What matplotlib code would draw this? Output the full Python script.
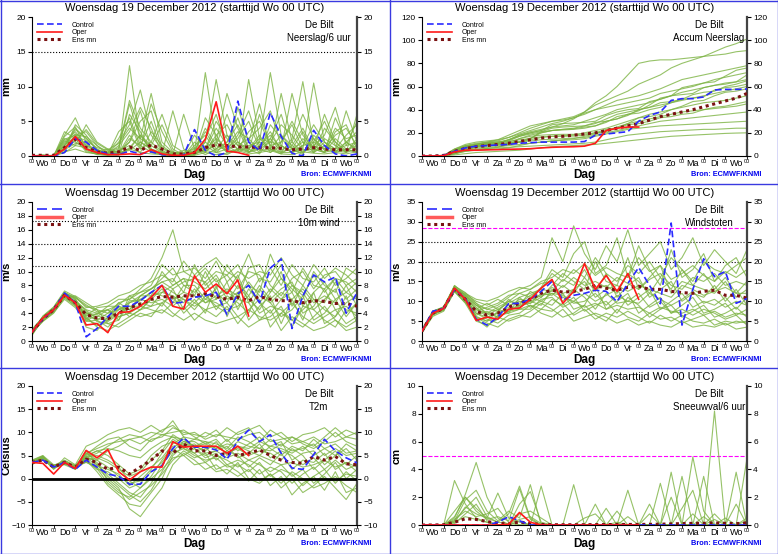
import numpy as np
import matplotlib.pyplot as plt
from matplotlib.lines import Line2D

plt.rcParams['font.family'] = ['Liberation Sans', 'DejaVu Sans']

# 12-hourly forecast steps, 0..360 h from Wo 19 Dec 00 UTC
hours = np.arange(0, 361, 12)
oper_hours = hours[:21]          # operational run stops at +240 h
day_names = ['Wo', 'Do', 'Vr', 'Za', 'Zo', 'Ma', 'Di', 'Wo', 'Do', 'Vr', 'Za', 'Zo', 'Ma', 'Di', 'Wo']
title = 'Woensdag 19 December 2012 (starttijd Wo 00 UTC)'

# ---- Neerslag / 6 uur (mm)
precip_members = [
    [0, 0, 0.1, 2.0, 3.5, 1.5, 0.5, 0.2, 0.5, 13.0, 2.0, 1.0, 0.5, 0.2, 0, 1.5, 3.0, 0.5, 2.0, 4.5, 1.0, 0.3, 2.5, 6.0, 1.0, 0.2, 3.0, 1.5, 0.5, 2.0, 1.0],
    [0, 0, 0, 1.5, 4.0, 2.5, 1.0, 0.3, 2.0, 4.5, 9.5, 3.0, 1.0, 0.5, 0.3, 0.5, 12.0, 2.0, 0.5, 1.0, 3.5, 5.0, 1.5, 0.5, 2.5, 10.7, 1.5, 0.5, 1.0, 3.0, 4.5],
    [0, 0.2, 0, 3.0, 5.5, 2.0, 0.5, 1.0, 0.5, 2.0, 6.5, 1.0, 0.3, 6.5, 1.0, 0.2, 2.0, 11.0, 3.0, 1.5, 0.5, 2.0, 12.0, 3.0, 1.0, 2.0, 0.5, 4.0, 2.0, 0.5, 6.0],
    [0, 0, 0.1, 1.0, 3.0, 3.5, 1.5, 0.5, 1.0, 7.5, 2.5, 9.0, 2.0, 0.5, 0.2, 3.0, 1.0, 4.0, 1.5, 0.5, 11.0, 2.5, 1.0, 9.0, 2.0, 0.5, 1.5, 3.0, 7.0, 1.5, 2.0],
    [0, 0, 0, 2.5, 2.0, 1.0, 0.3, 0.2, 3.5, 5.0, 1.0, 2.0, 6.0, 1.5, 0.5, 0.5, 4.0, 1.5, 6.0, 2.0, 1.0, 3.0, 0.5, 2.0, 4.5, 1.0, 10.5, 2.0, 0.5, 1.0, 0.5],
    [0, 0, 0, 0.5, 1.5, 4.5, 2.0, 1.0, 0.5, 1.0, 3.0, 1.5, 0.5, 0.2, 6.0, 1.0, 0.5, 2.0, 9.0, 4.0, 0.5, 1.5, 3.0, 1.0, 9.0, 3.0, 1.0, 0.5, 5.5, 2.0, 3.5],
    [0, 0, 0, 1.8, 3.2, 0.8, 0.2, 0.1, 0.3, 2.5, 1.5, 5.0, 0.8, 0.1, 0, 2.0, 0.8, 0.5, 1.0, 2.5, 5.0, 1.0, 2.0, 1.5, 0.5, 1.5, 2.0, 1.0, 3.0, 4.0, 1.5],
    [0, 0, 0, 1.2, 2.5, 1.8, 0.6, 0.3, 1.5, 3.5, 7.0, 4.0, 0.3, 0.1, 0.2, 0.3, 5.5, 3.0, 0.5, 7.0, 2.0, 0.5, 4.5, 2.5, 1.0, 3.5, 0.5, 2.0, 1.0, 6.5, 2.0],
    [0, 0, 0, 2.2, 1.5, 1.2, 0.4, 0.5, 0.2, 1.0, 0.5, 3.5, 1.5, 0.3, 0.5, 1.0, 0.2, 1.0, 3.0, 0.8, 2.0, 7.5, 1.0, 0.3, 1.5, 0.5, 2.0, 5.0, 1.5, 0.5, 1.0],
    [0, 0, 0, 0.8, 4.5, 3.0, 0.8, 0.2, 0.1, 6.0, 3.5, 0.5, 0.2, 0.1, 0.1, 0.2, 1.5, 0.5, 0.2, 1.0, 0.5, 1.0, 0.5, 1.5, 0.5, 2.5, 1.0, 0.5, 2.5, 1.0, 0.5],
    [0, 0, 0, 1.6, 2.8, 2.2, 1.2, 0.8, 0.5, 0.8, 2.0, 1.0, 0.1, 0, 0, 0.5, 1.0, 2.5, 1.0, 0.5, 1.5, 2.0, 1.0, 0.5, 0.5, 1.0, 0.5, 1.5, 0.8, 0.5, 2.5],
    [0, 0, 0, 0.6, 1.0, 0.5, 0.3, 0.2, 0.8, 1.5, 0.5, 0.3, 0.2, 0, 0, 0.1, 0.5, 0.2, 0.4, 0.8, 0.3, 0.5, 0.8, 0.3, 0.2, 0.6, 0.4, 0.3, 0.5, 0.3, 0.6],
    [0, 0, 0, 2.8, 4.2, 1.0, 0.4, 0.6, 1.2, 8.0, 4.0, 2.0, 0.6, 0.3, 0.8, 0.5, 2.5, 6.0, 1.0, 3.0, 6.5, 1.5, 3.5, 0.8, 2.0, 6.0, 2.5, 1.0, 4.0, 2.5, 3.0],
    [0, 0, 0, 1.4, 3.8, 2.6, 0.9, 0.4, 0.6, 2.0, 5.0, 6.5, 1.2, 0.4, 0.2, 1.2, 0.6, 3.0, 4.5, 1.5, 2.5, 4.0, 6.5, 1.5, 0.5, 1.5, 4.5, 2.0, 1.0, 1.5, 5.0],
    [0, 0, 0.1, 2.4, 3.0, 2.8, 1.5, 0.2, 0.4, 3.0, 1.0, 7.5, 3.5, 0.6, 0.3, 0.8, 3.5, 1.0, 2.0, 5.5, 1.0, 2.5, 2.0, 4.5, 3.0, 0.8, 1.0, 6.0, 2.0, 0.8, 1.5],
    [0, 0, 0, 1.0, 2.2, 3.8, 1.8, 0.9, 1.8, 4.0, 2.5, 1.5, 4.5, 1.0, 0.1, 0.2, 1.0, 5.0, 2.5, 1.0, 0.8, 6.0, 1.5, 2.0, 5.0, 2.0, 1.5, 0.5, 3.5, 4.5, 1.0],
    [0, 0, 0, 3.5, 2.5, 0.6, 0.3, 0.1, 0.2, 1.2, 3.0, 0.8, 0.2, 0, 0.1, 0.6, 2.0, 0.8, 1.5, 3.5, 2.5, 0.8, 1.0, 3.0, 1.5, 4.0, 0.8, 2.5, 1.5, 0.6, 2.0],
    [0, 0, 0, 0.9, 1.8, 1.6, 0.7, 0.5, 2.5, 5.5, 1.5, 0.6, 0.3, 0.2, 0, 0.3, 0.8, 1.5, 0.8, 2.0, 0.6, 1.2, 2.5, 0.6, 1.0, 0.4, 2.5, 0.8, 0.6, 2.0, 0.8],
]
precip_control = [0, 0, 0, 0.5, 2.5, 2.0, 0.8, 0.3, 0.2, 0.7, 0.3, 0.6, 0.2, 0, 0.1, 3.8, 0.8, 0, 0.5, 7.9, 2.0, 0.8, 6.2, 2.8, 0.4, 0, 3.7, 1.5, 0.3, 0, 0.3]
precip_oper = [0, 0, 0, 1.0, 2.8, 1.0, 0.5, 0.2, 0.2, 0.3, 0.2, 0.9, 0.3, 0.1, 0.1, 0.5, 2.4, 7.8, 0.7, 0.5, 0.1]
precip_mean = [0.1, 0.1, 0.1, 1.2, 2.4, 1.2, 0.6, 0.4, 0.6, 1.3, 0.8, 1.6, 1.0, 0.3, 0.3, 0.5, 1.2, 1.6, 1.5, 1.3, 1.3, 1.2, 1.2, 1.1, 0.9, 1.0, 1.2, 1.0, 0.9, 0.9, 0.9]

# ---- Accum neerslag (mm)
accum_members = [
    [0, 0, 0.5, 5, 9, 11, 12, 13, 16, 20, 24, 27, 30, 32, 34, 38, 44, 48, 52, 56, 62, 66, 70, 76, 80, 83, 86, 90, 94, 97, 101],
    [0, 0, 0.5, 4, 8, 10, 11, 12, 14, 17, 20, 22, 25, 28, 32, 38, 46, 52, 60, 70, 80, 82, 83, 83, 84, 85, 86, 87, 88, 90, 91],
    [0, 0, 0.3, 6, 10, 12, 13, 14, 18, 22, 26, 28, 30, 31, 33, 36, 40, 44, 48, 50, 52, 55, 58, 62, 66, 68, 70, 72, 74, 76, 78],
    [0, 0, 0.5, 3, 7, 10, 12, 14, 16, 19, 22, 25, 28, 30, 33, 37, 40, 42, 44, 46, 48, 50, 54, 56, 58, 60, 63, 66, 68, 70, 72],
    [0, 0, 0.4, 5, 8, 9, 10, 11, 14, 18, 21, 23, 25, 26, 27, 30, 33, 36, 40, 42, 44, 46, 49, 52, 55, 57, 59, 61, 63, 64, 66],
    [0, 0, 0.3, 2, 5, 8, 9, 10, 12, 15, 18, 20, 22, 23, 24, 26, 28, 32, 36, 38, 40, 42, 44, 46, 48, 50, 52, 54, 56, 58, 60],
    [0, 0, 0.6, 4, 7, 8, 8.5, 9, 10, 12, 14, 16, 17, 17.5, 18, 20, 22, 24, 27, 30, 33, 36, 38, 40, 42, 44, 46, 47, 48, 50, 52],
    [0, 0, 0.2, 3, 6, 7, 7.5, 8, 9, 10, 11, 12, 13, 14, 15, 17, 19, 22, 25, 28, 30, 32, 34, 36, 38, 39, 40, 41, 42, 43, 45],
    [0, 0, 0.5, 5, 8, 9, 9.5, 10, 11, 12, 13, 14, 14.5, 15, 15.5, 16, 18, 20, 22, 24, 26, 28, 30, 31, 32, 33, 34, 35, 36, 37, 38],
    [0, 0, 0.3, 2, 4, 5, 5.5, 6, 7, 9, 11, 12, 13, 13.5, 14, 15, 17, 19, 21, 23, 24, 25, 26, 26.5, 27, 27.5, 28, 28.5, 29, 29.5, 30],
    [0, 0, 0.2, 3, 5, 6, 6.5, 7, 7.5, 8, 8.5, 9, 9.5, 10, 10.5, 11, 12, 14, 16, 18, 19, 20, 21, 21.5, 22, 22.5, 23, 23, 23.5, 24, 24],
    [0, 0, 0.1, 1, 2, 3, 3.5, 4, 4.5, 5, 6, 7, 8, 8.5, 9, 9.5, 10, 11, 12, 13, 14, 15, 16, 17, 17.5, 18, 18.5, 19, 19.5, 19.8, 20],
    [0, 0, 0.4, 4.5, 8, 10, 11, 12, 13, 17, 19, 21, 22, 22.5, 23, 24, 26, 30, 32, 35, 40, 42, 46, 47, 49, 53, 55, 56, 60, 62, 65],
    [0, 0, 0.3, 3, 6.5, 9, 10, 10.5, 11, 12, 15, 20, 22, 23, 23.5, 25, 26, 29, 34, 36, 39, 44, 50, 52, 53, 54, 59, 61, 62, 64, 70],
    [0, 0, 0.5, 5, 8, 10, 11.5, 12, 12.5, 14, 15, 21, 24, 25, 25.5, 26, 29, 30, 32, 36, 37, 40, 42, 46, 49, 50, 51, 57, 59, 60, 62],
    [0, 0, 0.2, 2, 5, 8, 10, 11, 14, 18, 20, 22, 27, 28, 28.5, 29, 30, 35, 38, 40, 41, 47, 49, 52, 59, 61, 63, 64, 69, 74, 76],
    [0, 0, 0.6, 6, 9, 10, 10.5, 10.7, 11, 12.5, 15.5, 16.5, 17, 17, 17.2, 18, 20, 21, 24, 28, 33, 34, 36, 40, 43, 47, 48, 52, 55, 56, 58],
    [0, 0, 0.2, 2, 4, 5.5, 6.5, 7.5, 10, 15, 17, 18, 18.5, 18.7, 18.7, 19, 20, 23, 24, 27, 28, 30, 33, 34, 36, 37, 40, 42, 43, 45, 47],
]
accum_control = [0, 0, 0.5, 4, 7, 8.5, 9, 9.5, 10, 11, 11.5, 12, 12, 12, 12, 12.5, 18, 19, 20, 21, 30, 35, 38, 48, 49.5, 49.5, 51, 57, 57.5, 57.5, 57.8]
accum_oper = [0, 0, 0.3, 3.5, 5, 5, 5.3, 5.5, 5.8, 6, 6.3, 7, 7.5, 7.8, 8, 8.5, 11, 22, 24, 25, 25]
accum_mean = [0, 0, 0.5, 4, 6.5, 8, 9, 10, 11, 12.5, 14, 15.5, 16.5, 17, 18, 19, 20, 22, 24, 26, 28, 31, 34, 36, 38, 40, 42.5, 45, 47.5, 50, 54]

# ---- 10 m wind (m/s)
wind_members = [
    [1.0, 3.0, 4.2, 6.5, 5.8, 4.5, 4.0, 3.5, 5.5, 6.0, 7.5, 9.0, 12.0, 16.0, 10.0, 9.0, 8.5, 10.0, 9.5, 11.0, 8.0, 7.0, 12.5, 9.0, 7.5, 6.0, 10.0, 8.0, 7.0, 10.5, 9.5],
    [1.5, 3.5, 4.8, 7.0, 6.0, 3.0, 2.5, 3.0, 4.5, 5.5, 6.5, 7.5, 8.5, 9.0, 7.0, 11.0, 8.0, 9.5, 7.0, 6.0, 10.5, 11.0, 8.0, 6.5, 9.0, 10.0, 7.5, 9.5, 10.0, 8.0, 9.0],
    [1.2, 2.8, 4.0, 6.2, 5.0, 4.0, 3.5, 4.5, 3.5, 4.0, 5.0, 6.5, 10.0, 8.0, 9.0, 6.5, 10.0, 7.0, 5.5, 8.0, 6.0, 4.5, 7.0, 10.0, 5.0, 8.0, 6.0, 5.5, 8.5, 6.0, 7.5],
    [0.8, 3.2, 4.5, 6.8, 6.2, 5.0, 4.5, 2.5, 3.0, 6.5, 5.5, 5.0, 7.0, 6.5, 5.5, 7.5, 5.5, 6.0, 8.5, 4.5, 7.5, 5.5, 4.0, 6.0, 7.0, 4.0, 5.0, 7.5, 4.5, 5.0, 3.5],
    [1.4, 3.4, 4.4, 6.4, 5.4, 2.0, 1.5, 3.5, 5.0, 4.5, 6.0, 5.5, 6.0, 5.0, 6.5, 5.5, 7.0, 4.5, 6.5, 5.5, 4.0, 7.5, 5.5, 3.5, 4.5, 6.5, 3.0, 4.0, 6.0, 3.5, 5.5],
    [1.1, 3.0, 4.6, 6.7, 5.6, 3.5, 2.0, 1.5, 2.5, 3.5, 4.5, 6.0, 5.0, 7.5, 4.5, 6.0, 4.0, 8.0, 3.5, 7.0, 3.0, 5.0, 6.5, 2.5, 6.0, 3.0, 7.0, 2.5, 3.5, 6.5, 2.5],
    [1.6, 3.3, 4.3, 6.3, 6.5, 5.5, 4.5, 4.0, 4.5, 5.0, 5.0, 4.5, 4.0, 5.5, 6.0, 4.5, 6.5, 5.0, 4.0, 6.0, 5.5, 3.0, 3.5, 5.0, 2.0, 5.0, 4.5, 3.0, 2.0, 4.5, 4.0],
    [1.3, 2.9, 4.1, 6.0, 4.8, 2.8, 3.0, 2.0, 3.5, 4.0, 3.5, 4.0, 4.5, 3.5, 5.0, 3.0, 4.5, 3.5, 5.0, 2.5, 4.5, 6.0, 2.0, 4.0, 3.0, 2.0, 3.5, 5.0, 3.0, 2.0, 3.0],
    [0.9, 3.6, 4.9, 7.2, 6.4, 4.8, 5.0, 5.5, 6.5, 7.0, 8.0, 8.5, 9.5, 8.5, 11.5, 9.5, 11.0, 12.0, 10.0, 9.0, 12.5, 8.5, 10.5, 8.0, 11.0, 9.0, 8.5, 10.5, 8.0, 9.0, 10.5],
    [1.3, 3.1, 4.4, 6.6, 5.2, 3.8, 3.0, 4.0, 5.5, 4.5, 6.5, 7.5, 9.0, 10.5, 8.0, 8.0, 6.0, 7.5, 11.0, 8.5, 6.5, 9.0, 8.5, 11.0, 8.0, 6.5, 9.5, 7.0, 9.0, 7.0, 6.0],
    [1.0, 3.0, 4.7, 6.9, 5.9, 4.2, 2.8, 2.5, 2.0, 3.0, 4.0, 3.5, 5.5, 4.0, 3.0, 4.0, 3.0, 2.5, 3.0, 3.5, 2.0, 3.0, 4.5, 1.5, 3.5, 2.5, 1.5, 2.0, 3.0, 1.5, 2.0],
    [1.7, 3.4, 4.5, 6.5, 5.3, 3.2, 4.0, 4.5, 3.0, 5.5, 6.0, 7.0, 6.5, 6.0, 7.0, 6.5, 5.5, 6.5, 7.5, 6.5, 8.5, 6.5, 5.5, 7.0, 6.0, 7.5, 5.5, 6.5, 5.5, 8.0, 5.0],
    [1.2, 3.3, 4.6, 6.8, 5.6, 3.6, 4.8, 5.0, 6.0, 6.0, 7.0, 8.0, 11.0, 9.5, 10.0, 10.5, 9.0, 11.5, 8.5, 10.0, 9.0, 10.0, 9.5, 12.0, 9.5, 8.0, 11.0, 9.0, 10.5, 9.5, 8.0],
    [1.5, 3.1, 4.3, 6.4, 5.7, 4.4, 3.2, 3.0, 4.0, 5.0, 4.5, 6.0, 7.5, 5.5, 8.0, 7.0, 8.5, 6.0, 7.0, 9.5, 5.5, 8.0, 6.0, 7.5, 8.5, 5.0, 7.0, 8.5, 6.0, 7.0, 8.5],
    [1.0, 3.5, 4.8, 7.0, 6.1, 3.3, 2.2, 2.8, 3.8, 5.8, 5.8, 7.0, 8.0, 7.0, 6.0, 5.0, 6.0, 5.5, 4.5, 5.0, 6.5, 4.0, 5.0, 4.5, 3.0, 4.5, 6.0, 4.5, 3.5, 5.5, 6.5],
    [1.3, 3.2, 4.5, 6.5, 5.5, 4.0, 3.8, 5.0, 5.0, 4.0, 6.5, 6.5, 7.0, 8.0, 9.0, 8.5, 7.5, 9.0, 6.0, 7.0, 8.0, 5.5, 7.5, 6.0, 8.0, 7.0, 4.5, 6.0, 7.5, 4.0, 5.5],
    [1.4, 2.9, 4.4, 6.3, 5.1, 3.0, 3.6, 3.2, 4.8, 3.5, 4.5, 5.0, 5.5, 6.5, 4.0, 5.5, 4.5, 5.0, 5.5, 3.5, 4.5, 3.5, 3.0, 4.0, 5.5, 3.5, 2.5, 3.5, 4.5, 2.5, 3.5],
    [1.1, 3.4, 4.7, 6.9, 6.3, 5.2, 4.2, 4.5, 5.2, 6.5, 7.0, 7.5, 8.5, 7.5, 8.5, 9.0, 10.5, 8.5, 9.5, 7.5, 10.0, 9.5, 7.0, 9.0, 7.0, 10.5, 8.0, 7.5, 9.0, 8.5, 7.0],
]
wind_control = [1.3, 3.2, 4.5, 6.9, 5.5, 0.6, 1.8, 3.5, 5.0, 5.0, 5.8, 7.0, 8.0, 5.4, 5.6, 6.3, 6.5, 7.0, 3.8, 6.8, 8.0, 5.5, 10.5, 11.8, 1.8, 6.5, 9.5, 8.5, 9.2, 4.0, 7.0]
wind_oper = [1.3, 3.3, 4.5, 6.6, 5.5, 2.3, 2.5, 1.2, 4.1, 4.2, 5.0, 6.3, 8.0, 5.0, 4.6, 9.4, 7.0, 8.2, 6.8, 8.8, 3.6]
wind_mean = [1.3, 3.2, 4.5, 6.6, 5.5, 3.8, 3.3, 3.2, 4.0, 4.8, 5.3, 6.0, 6.4, 6.3, 6.5, 6.5, 6.8, 6.4, 6.0, 6.3, 5.8, 6.4, 6.0, 5.8, 5.8, 5.5, 5.8, 5.7, 5.4, 5.4, 5.0]

# ---- Windstoten (m/s)
gust_members = [
    [2.0, 6.5, 8.0, 14.0, 11.5, 9.0, 8.0, 9.0, 11.0, 13.0, 14.0, 16.0, 26.0, 20.0, 29.0, 22.0, 18.0, 24.0, 20.0, 28.0, 19.0, 22.0, 25.0, 18.0, 21.0, 26.0, 19.0, 23.0, 20.0, 17.0, 23.0],
    [3.0, 7.5, 8.5, 13.5, 10.0, 6.0, 5.0, 7.5, 10.0, 12.0, 11.0, 13.5, 18.0, 16.0, 22.0, 25.0, 17.0, 19.0, 26.0, 16.0, 24.0, 18.0, 14.0, 23.0, 16.0, 18.0, 22.0, 15.0, 19.0, 21.0, 16.0],
    [2.3, 6.8, 8.3, 12.8, 11.0, 8.0, 7.0, 6.0, 7.5, 9.0, 12.5, 11.0, 14.0, 17.0, 15.0, 13.0, 20.0, 15.0, 14.0, 21.0, 13.0, 16.0, 19.0, 12.0, 15.0, 14.0, 17.0, 13.0, 16.0, 12.0, 15.0],
    [2.6, 7.2, 7.8, 13.2, 11.8, 10.0, 9.0, 10.5, 9.0, 10.0, 9.5, 12.0, 11.5, 14.0, 12.0, 16.0, 12.5, 17.0, 11.0, 14.0, 16.0, 11.0, 13.0, 15.0, 10.0, 12.0, 11.0, 14.0, 10.0, 13.0, 9.0],
    [2.2, 6.2, 7.5, 12.5, 9.5, 5.0, 4.0, 5.5, 8.0, 8.5, 10.0, 9.0, 13.0, 11.0, 10.0, 12.0, 10.0, 11.5, 13.0, 9.0, 11.0, 13.0, 8.0, 10.0, 12.0, 8.5, 10.0, 9.0, 11.0, 8.0, 11.0],
    [2.8, 7.0, 8.6, 13.8, 12.2, 9.5, 6.5, 8.0, 7.0, 11.0, 8.5, 10.0, 9.0, 12.0, 8.0, 9.0, 14.0, 8.0, 10.0, 12.0, 7.0, 9.0, 11.0, 7.0, 9.0, 11.0, 7.0, 8.0, 9.5, 6.5, 8.0],
    [2.4, 7.6, 8.1, 13.0, 10.8, 7.0, 5.5, 4.5, 6.5, 7.0, 9.0, 8.0, 10.5, 9.0, 11.0, 7.5, 9.0, 10.0, 7.0, 11.0, 9.0, 6.0, 8.0, 9.0, 6.0, 7.5, 9.0, 6.0, 7.0, 8.5, 6.0],
    [2.7, 6.6, 7.9, 12.6, 9.8, 6.5, 7.5, 6.0, 5.0, 6.0, 7.5, 9.5, 8.0, 6.0, 7.0, 9.0, 6.5, 5.0, 8.0, 6.0, 5.0, 7.0, 5.5, 6.0, 4.5, 5.5, 6.5, 4.0, 5.0, 4.5, 5.0],
    [2.1, 7.3, 8.4, 13.6, 11.2, 8.5, 6.0, 7.0, 8.5, 10.5, 10.0, 11.5, 12.0, 10.0, 13.0, 11.0, 8.0, 12.0, 9.5, 10.0, 12.0, 8.5, 10.0, 7.0, 8.0, 6.5, 8.0, 7.0, 5.5, 6.5, 4.0],
    [2.9, 7.1, 8.0, 13.1, 10.4, 7.5, 8.5, 9.5, 11.5, 12.0, 13.0, 14.5, 15.0, 13.5, 16.0, 14.0, 15.0, 13.5, 16.0, 14.5, 13.0, 15.5, 17.0, 14.0, 13.0, 16.0, 15.0, 17.0, 14.0, 15.0, 14.0],
    [2.5, 6.9, 8.2, 12.9, 10.6, 5.5, 3.5, 6.5, 7.0, 8.0, 9.0, 7.0, 6.0, 8.0, 5.0, 6.0, 7.0, 6.0, 4.5, 5.5, 4.0, 5.0, 4.0, 3.5, 5.0, 3.5, 4.0, 3.5, 4.5, 3.0, 3.5],
    [2.3, 7.4, 8.5, 13.4, 11.4, 9.0, 7.0, 8.5, 10.0, 9.5, 11.5, 13.0, 12.5, 15.5, 14.0, 18.0, 13.0, 14.0, 12.0, 17.0, 15.0, 12.0, 16.0, 13.0, 18.0, 14.0, 13.0, 12.0, 15.0, 11.0, 13.0],
    [2.4, 7.0, 8.3, 13.2, 11.0, 8.0, 9.5, 8.0, 9.5, 11.0, 12.0, 13.0, 17.0, 15.0, 18.0, 16.0, 21.0, 17.0, 15.0, 19.0, 17.0, 20.0, 16.0, 21.0, 18.0, 15.0, 20.0, 18.0, 17.0, 19.0, 21.0],
    [2.6, 6.7, 8.0, 12.7, 10.2, 7.0, 6.0, 7.0, 8.0, 9.0, 9.5, 11.0, 13.5, 12.0, 13.0, 15.0, 11.0, 13.0, 14.0, 12.5, 14.0, 13.0, 12.0, 11.0, 14.0, 13.0, 11.5, 12.5, 13.5, 12.0, 12.0],
    [2.2, 7.2, 8.4, 13.4, 11.6, 9.5, 8.0, 7.5, 10.5, 8.5, 11.0, 10.0, 12.0, 11.5, 9.5, 10.0, 12.0, 9.0, 11.5, 10.0, 9.5, 12.0, 10.5, 9.0, 10.5, 12.5, 9.5, 10.5, 8.5, 10.0, 9.0],
    [2.8, 7.3, 8.2, 13.0, 10.9, 6.2, 5.0, 6.0, 7.5, 8.0, 8.0, 10.5, 11.0, 8.5, 10.0, 8.5, 9.5, 8.0, 9.0, 8.0, 8.5, 7.0, 8.5, 7.5, 7.0, 8.0, 6.5, 7.5, 6.0, 7.0, 6.5],
    [2.5, 6.8, 7.7, 12.4, 9.7, 5.8, 4.5, 3.5, 5.5, 6.5, 6.0, 8.0, 7.5, 9.5, 6.5, 8.0, 5.5, 7.0, 6.0, 7.5, 6.0, 4.5, 6.5, 5.0, 6.5, 5.0, 4.5, 5.5, 4.0, 5.0, 4.5],
    [2.7, 7.5, 8.6, 13.9, 12.0, 10.5, 10.0, 11.0, 12.5, 13.5, 13.0, 15.0, 16.0, 18.0, 17.0, 19.5, 16.5, 18.5, 17.0, 16.0, 21.0, 17.5, 19.0, 15.5, 17.0, 19.0, 16.5, 15.0, 17.5, 16.0, 18.0],
]
gust_control = [2.5, 7.5, 8.2, 13.0, 10.7, 5.5, 4.0, 6.0, 9.4, 9.5, 10.5, 12.5, 15.0, 10.3, 11.5, 12.0, 12.8, 12.5, 9.9, 14.5, 18.5, 14.0, 9.4, 29.7, 4.0, 13.0, 20.7, 16.2, 17.5, 9.5, 10.7]
gust_oper = [2.5, 7.0, 8.2, 13.3, 10.5, 5.2, 6.0, 5.5, 8.0, 8.3, 10.5, 13.3, 15.5, 9.5, 12.5, 19.5, 13.0, 16.5, 12.5, 17.0, 10.5]
gust_mean = [2.5, 7.0, 8.2, 13.0, 10.5, 7.5, 6.5, 7.0, 8.5, 9.5, 10.5, 12.0, 12.8, 12.3, 12.5, 13.0, 14.0, 13.3, 12.8, 13.5, 13.8, 13.0, 13.0, 12.5, 12.2, 12.0, 12.5, 12.8, 11.5, 11.5, 10.8]

# ---- T2m (Celsius)
t2m_members = [
    [3.0, 4.5, 2.0, 4.5, 3.0, 7.0, 8.0, 9.5, 10.5, 11.0, 10.0, 11.5, 10.0, 12.5, 9.0, 8.5, 10.0, 9.0, 11.0, 9.5, 10.5, 11.5, 9.0, 10.0, 8.0, 9.5, 10.0, 11.0, 9.0, 10.5, 9.5],
    [4.0, 5.0, 3.0, 3.0, 2.0, 5.5, 4.0, 6.0, 7.0, 8.5, 9.0, 10.0, 9.5, 9.0, 7.5, 7.0, 8.0, 7.5, 6.5, 9.0, 8.0, 6.5, 8.5, 7.0, 9.0, 7.5, 6.5, 8.0, 10.0, 8.0, 7.0],
    [3.5, 4.2, 2.8, 4.0, 2.5, 6.0, 3.0, 1.0, -1.0, -3.0, -4.0, -1.0, 3.0, 6.0, 8.0, 7.0, 6.0, 8.0, 5.0, 7.0, 6.0, 5.0, 7.0, 8.0, 4.0, 5.5, 6.0, 3.0, 5.0, 6.5, 4.0],
    [3.8, 4.8, 2.3, 3.8, 2.2, 4.0, 1.5, -1.5, -3.5, -5.5, -6.0, -3.0, 0.0, 5.0, 7.0, 5.5, 3.5, 5.0, 4.0, 2.5, 4.0, 3.0, 1.5, 3.0, 0.5, 2.0, -1.0, 1.0, 3.5, 0.0, 2.0],
    [3.2, 4.4, 2.6, 3.2, 2.8, 3.5, 2.5, 0.0, -2.0, -6.5, -8.2, -5.0, -2.0, 3.0, 5.5, 4.0, 2.0, 3.0, 1.0, 3.5, 0.0, -1.0, 1.0, -2.0, 0.0, -3.0, -1.5, 0.5, -2.0, -4.5, -1.0],
    [3.6, 4.6, 2.4, 3.6, 2.6, 5.0, 6.0, 5.0, 3.0, 1.0, 2.0, 5.0, 7.0, 8.0, 6.5, 5.5, 7.0, 4.0, 6.0, 5.0, 2.5, 4.5, 3.0, 5.5, 2.0, 4.0, 3.5, 5.5, 2.0, 3.5, 1.5],
    [3.4, 4.0, 2.7, 3.4, 2.3, 4.5, 5.5, 7.0, 8.5, 9.5, 9.0, 8.0, 9.5, 10.0, 10.5, 9.0, 7.5, 6.5, 8.5, 6.0, 7.5, 9.0, 6.5, 5.0, 7.0, 6.0, 8.5, 6.5, 5.0, 7.5, 6.0],
    [3.3, 4.3, 2.2, 3.3, 2.4, 3.8, 2.8, 2.0, 1.0, -1.5, 0.5, 2.5, 4.5, 7.5, 9.0, 6.5, 5.0, 6.0, 7.0, 4.5, 5.5, 7.5, 4.5, 6.0, 5.0, 3.0, 4.5, 2.0, 4.0, 2.0, 3.0],
    [3.7, 4.1, 2.9, 3.7, 2.0, 4.2, 4.5, 3.5, 2.0, 0.5, 1.5, 4.0, 6.0, 9.5, 8.0, 8.0, 6.5, 7.0, 5.5, 6.5, 5.0, 6.0, 5.5, 4.0, 6.5, 5.0, 2.0, 4.0, 6.0, 3.0, 5.0],
    [3.1, 4.7, 2.5, 3.1, 2.7, 4.8, 3.5, -0.5, -2.5, -4.5, -3.0, -1.5, 1.0, 4.0, 6.0, 4.5, 5.5, 2.0, 3.0, 1.5, -0.5, 2.0, -1.5, 0.5, -3.5, -1.0, 0.5, -2.5, 1.5, -3.0, -2.0],
    [3.9, 4.9, 2.1, 3.9, 2.9, 5.2, 7.0, 8.5, 9.0, 7.0, 6.0, 8.5, 9.0, 11.0, 10.0, 9.5, 9.0, 10.5, 8.0, 10.0, 11.0, 8.0, 10.5, 9.0, 7.5, 8.0, 7.0, 9.0, 11.0, 9.0, 10.0],
    [3.5, 4.5, 2.5, 3.5, 2.5, 4.0, 2.0, 1.5, 0.0, -2.0, -1.0, 1.5, 3.5, 6.5, 5.0, 6.5, 4.5, 5.5, 3.0, 4.0, 3.0, 1.0, 2.5, 1.5, -1.0, 1.0, 2.5, 0.0, -0.5, 1.0, 0.5],
    [3.3, 4.6, 2.6, 3.6, 2.7, 4.6, 5.0, 4.0, 2.5, -0.5, -2.0, 0.5, 4.0, 7.0, 7.5, 8.5, 8.0, 6.5, 7.5, 7.0, 6.5, 8.0, 7.0, 6.5, 5.5, 7.0, 5.0, 6.5, 7.5, 5.5, 6.0],
    [3.6, 4.2, 2.4, 3.4, 2.2, 4.4, 3.0, 0.5, -1.5, -3.5, -5.0, -2.5, 1.5, 5.5, 6.5, 5.0, 4.0, 4.5, 2.5, 3.0, 1.5, 3.5, 0.5, 2.0, 1.0, -1.5, 0.5, 2.0, -1.0, 1.5, -0.5],
    [3.4, 4.8, 2.7, 3.3, 2.4, 5.5, 6.5, 7.5, 8.0, 8.5, 7.5, 9.0, 10.5, 11.5, 9.5, 10.0, 8.5, 9.5, 9.0, 8.5, 9.5, 10.0, 8.0, 8.5, 9.0, 8.0, 9.0, 7.5, 8.0, 9.0, 8.5],
    [3.7, 4.4, 2.2, 3.7, 2.6, 4.3, 4.0, 2.5, 0.5, -1.0, -0.5, 2.0, 5.5, 8.5, 7.0, 7.5, 5.5, 6.0, 4.5, 5.5, 4.0, 5.0, 4.0, 3.0, 3.5, 2.5, 3.0, 4.0, 2.5, 3.5, 2.5],
    [3.2, 4.3, 2.8, 3.5, 2.3, 3.6, 2.2, -1.0, -3.0, -4.0, -2.0, 0.0, 2.0, 4.5, 5.0, 3.0, 3.5, 1.5, 2.0, 0.5, 2.0, -0.5, 1.0, -1.0, 1.5, 0.0, -2.0, -1.0, 0.5, -1.5, -3.0],
    [3.5, 4.7, 2.3, 3.8, 2.5, 4.7, 6.0, 6.5, 6.0, 5.0, 4.5, 6.5, 8.0, 9.0, 8.5, 7.0, 7.5, 8.5, 6.0, 8.0, 7.0, 6.5, 6.0, 7.5, 6.0, 6.5, 7.5, 5.0, 6.5, 5.0, 5.5],
]
t2m_control = [3.5, 4.0, 2.5, 3.5, 2.0, 4.0, 2.5, 1.0, 0.5, -1.2, -1.2, 1.5, 2.8, 6.5, 8.8, 6.8, 6.8, 6.2, 4.2, 8.2, 10.5, 8.0, 9.5, 5.5, 2.3, 2.0, 5.2, 8.5, 6.0, 4.5, 3.4]
t2m_oper = [3.5, 3.3, 1.0, 3.5, 2.2, 6.1, 4.5, 6.3, 1.5, -0.3, 1.5, 2.5, 2.5, 8.0, 6.8, 7.0, 7.0, 7.0, 5.5, 7.0, 5.0]
t2m_mean = [3.5, 4.0, 2.5, 3.5, 2.5, 4.2, 3.5, 2.0, 2.5, 1.0, 2.5, 4.0, 6.0, 5.5, 7.5, 6.0, 6.0, 5.0, 5.5, 5.0, 5.5, 6.2, 5.0, 4.0, 3.5, 3.3, 4.8, 4.0, 4.8, 3.2, 3.0]

# ---- Sneeuwval / 6 uur (cm)
snow_members = [
    [0, 0, 0, 3.2, 1.5, 0.5, 0.2, 0, 0, 0.3, 0, 0, 0, 0, 0, 0, 0, 0, 0.2, 0, 0, 0, 0, 0, 0, 4.9, 1.0, 0, 0, 0, 0.3],
    [0, 0, 0, 0.5, 2.2, 4.5, 2.0, 0.5, 0, 0, 0, 0, 0, 0, 0, 0, 1.5, 0, 0, 0, 0, 0, 0, 3.8, 0, 0, 0, 0, 0, 0, 0],
    [0, 0, 0, 1.0, 2.0, 1.2, 0.5, 0.2, 0.8, 2.8, 0.5, 0, 0, 0, 0, 0, 0, 0, 0, 0, 0, 1.5, 0, 0, 0, 0, 3.5, 0, 0, 3.8, 0],
    [0, 0, 0, 0.3, 1.8, 2.5, 1.0, 0.3, 1.0, 0.5, 2.9, 0, 0, 0, 2.9, 0, 0, 0, 0, 2.5, 0, 0, 3.0, 0, 0, 0, 0, 8.2, 0, 0, 0],
    [0, 0, 0, 0.2, 1.3, 0.8, 0.5, 2.3, 0.5, 0.2, 0, 2.8, 0, 0, 0, 0, 0, 1.2, 0, 0, 0, 0, 0, 2.0, 0, 0, 0, 0, 0, 0, 4.8],
    [0, 0, 0, 0.1, 0.8, 1.5, 0.3, 0, 0, 1.5, 2.4, 0.2, 0, 0, 0, 0.5, 0.8, 0, 0, 0, 0, 0, 0, 0, 1.2, 2.5, 0, 0, 0.5, 0, 0],
    [0, 0, 0, 0.4, 1.0, 0.6, 0.8, 1.2, 0.2, 0, 0, 0, 0, 0, 0, 0, 0, 0, 1.0, 0, 0, 0.8, 0, 0, 0, 0, 0, 0.8, 0, 1.5, 0],
    [0, 0, 0, 0.2, 0.6, 0.4, 0.2, 0, 0, 0.8, 1.0, 0.5, 0, 0, 0, 0, 0, 0, 0, 0, 0, 0, 0, 0, 0, 0, 0.6, 0, 0, 0, 0.5],
    [0, 0, 0, 0.6, 2.0, 1.0, 0.4, 0.6, 0.3, 2.6, 0.4, 0, 0, 0, 0, 0, 0, 0, 0, 0.6, 0, 0, 0, 0, 3.5, 0, 0, 0, 0, 0, 0],
    [0, 0, 0, 0.3, 1.2, 2.0, 0.6, 0.2, 0.1, 0.4, 0.6, 0.1, 0, 0, 0, 0, 0, 0, 0, 0, 0, 0, 0, 0, 0, 0.8, 0, 0.4, 0, 0, 0],
]
snow_control = [0, 0, 0, 0, 0, 0, 0, 0.2, 0.6, 0.3, 0, 0, 0, 0, 0, 0, 0, 0, 0, 0, 0, 0, 0, 0, 0, 0, 0, 0, 0, 0, 0]
snow_oper = [0, 0, 0, 0, 0, 0, 0, 0, 0.05, 0.9, 0.2, 0, 0, 0, 0, 0, 0, 0, 0, 0, 0]
snow_mean = [0, 0, 0.02, 0.2, 0.45, 0.4, 0.25, 0.12, 0.08, 0.22, 0.1, 0.04, 0.02, 0.02, 0.02, 0.02, 0.03, 0.03, 0.04, 0.04, 0.04, 0.05, 0.06, 0.08, 0.1, 0.12, 0.12, 0.15, 0.12, 0.1, 0.15]

member_color = '#7cb342'
ctrl_color = '#2a2aff'
oper_color = '#ff1a1a'
mean_color = '#7a1212'

fig = plt.figure(figsize=(7.78, 5.54), dpi=100)

panels = [
    # left px, top px, name, ylabel, ylim, yticks, data, reflines, windy legend
    (32, 17, 'De Bilt\nNeerslag/6 uur', 'mm', (0, 20), range(0, 21, 5),
     (precip_members, precip_control, precip_oper, precip_mean), [(15, 'k', ':')], False),
    (422, 17, 'De Bilt\nAccum Neerslag', 'mm', (0, 120), range(0, 121, 20),
     (accum_members, accum_control, accum_oper, accum_mean), [], False),
    (32, 202, 'De Bilt\n10m wind', 'm/s', (0, 20), range(0, 21, 2),
     (wind_members, wind_control, wind_oper, wind_mean),
     [(10.8, 'k', ':'), (13.9, 'k', ':'), (17.2, 'k', ':')], True),
    (422, 202, 'De Bilt\nWindstoten', 'm/s', (0, 35), range(0, 36, 5),
     (gust_members, gust_control, gust_oper, gust_mean),
     [(20, 'k', ':'), (25, 'k', ':'), (28.5, '#ff00ff', '--')], True),
    (32, 386, 'De Bilt\nT2m', 'Celsius', (-10, 20), range(-10, 21, 5),
     (t2m_members, t2m_control, t2m_oper, t2m_mean), [], False),
    (422, 386, 'De Bilt\nSneeuwval/6 uur', 'cm', (0, 10), range(0, 11, 2),
     (snow_members, snow_control, snow_oper, snow_mean), [(5, '#ff00ff', '--')], False),
]

W, H = 778, 554
for left, top, name, ylabel, ylim, yticks, data, reflines, windy in panels:
    ax = fig.add_axes([left / W, 1 - (top + 139) / H, 325 / W, 139 / H])
    members, control, oper, mean = data

    for m in members:
        ax.plot(hours, m, color=member_color, lw=0.8, alpha=0.8, zorder=2)
    for y, c, ls in reflines:
        ax.axhline(y, color=c, ls=ls, lw=0.8, zorder=1)
    if ylabel == 'Celsius':
        ax.axhline(0, color='k', lw=2, zorder=3)

    ax.plot(hours, mean, color=mean_color, lw=2.2, ls=(0, (1, 1.2)), zorder=4)
    ax.plot(hours, control, color=ctrl_color, lw=1.2, ls=(0, (4, 2)), zorder=5)
    ax.plot(oper_hours, oper, color=oper_color, lw=1.2, zorder=6)

    ax.set_xlim(0, 360)
    ax.set_ylim(*ylim)
    ax.set_yticks(list(yticks))
    ax.tick_params(axis='y', labelsize=6, length=3, width=0.8, right=True, labelright=True, pad=1.5)

    ax.set_xticks(np.arange(0, 361, 24))
    ax.set_xticklabels(['00'] * 16, fontsize=4)
    ax.set_xticks(np.arange(12, 360, 24), minor=True)
    ax.set_xticklabels(day_names, minor=True, fontsize=6.5)
    ax.tick_params(axis='x', which='major', length=2, width=0.6, pad=0.2)
    ax.tick_params(axis='x', which='minor', length=0, pad=2.3)

    ax.spines['top'].set_visible(False)
    ax.spines['right'].set_linewidth(1.6)
    ax.spines['right'].set_color('#444444')
    ax.spines['left'].set_linewidth(0.8)

    ax.set_title(title, fontsize=8, pad=4)
    ax.set_ylabel(ylabel, fontsize=8, fontweight='bold')
    ax.yaxis.set_label_coords(-0.063, 0.5)
    ax.text(0.5, -0.14, 'Dag', transform=ax.transAxes, ha='center', va='center',
            fontsize=8.5, fontweight='bold')
    ax.text(1.045, -0.135, 'Bron: ECMWF/KNMI', transform=ax.transAxes, ha='right', va='center',
            fontsize=5.3, fontweight='bold', color='#0000ee')
    ax.text(0.883, 0.975, name, transform=ax.transAxes, ha='center', va='top',
            fontsize=7, linespacing=1.3)

    if windy:
        oper_handle = Line2D([], [], color='#ff5a5a', lw=2.5)
        ctrl_handle = Line2D([], [], color=ctrl_color, lw=1.2, ls=(0, (6, 3)))
    else:
        oper_handle = Line2D([], [], color=oper_color, lw=1.2)
        ctrl_handle = Line2D([], [], color=ctrl_color, lw=1.2, ls=(0, (4, 2)))
    handles = [ctrl_handle, oper_handle,
               Line2D([], [], color=mean_color, lw=2.2, ls=(0, (1, 1.2)))]
    ax.legend(handles, ['Control', 'Oper', 'Ens mn'], loc='upper left', frameon=False,
              fontsize=5, handlelength=3.6, handletextpad=1.4, labelspacing=0.05,
              borderaxespad=0.5, borderpad=0.2)

# panel frames
fc = '#3a3ae0'
for x in (0.5 / W, 390 / W, 1 - 0.5 / W):
    fig.add_artist(Line2D([x, x], [0, 1], transform=fig.transFigure, color=fc, lw=1))
for y in (0.5 / H, 1 - 184 / H, 1 - 368 / H, 1 - 0.5 / H):
    fig.add_artist(Line2D([0, 1], [y, y], transform=fig.transFigure, color=fc, lw=1))

fig.savefig('out.png', dpi=100)
